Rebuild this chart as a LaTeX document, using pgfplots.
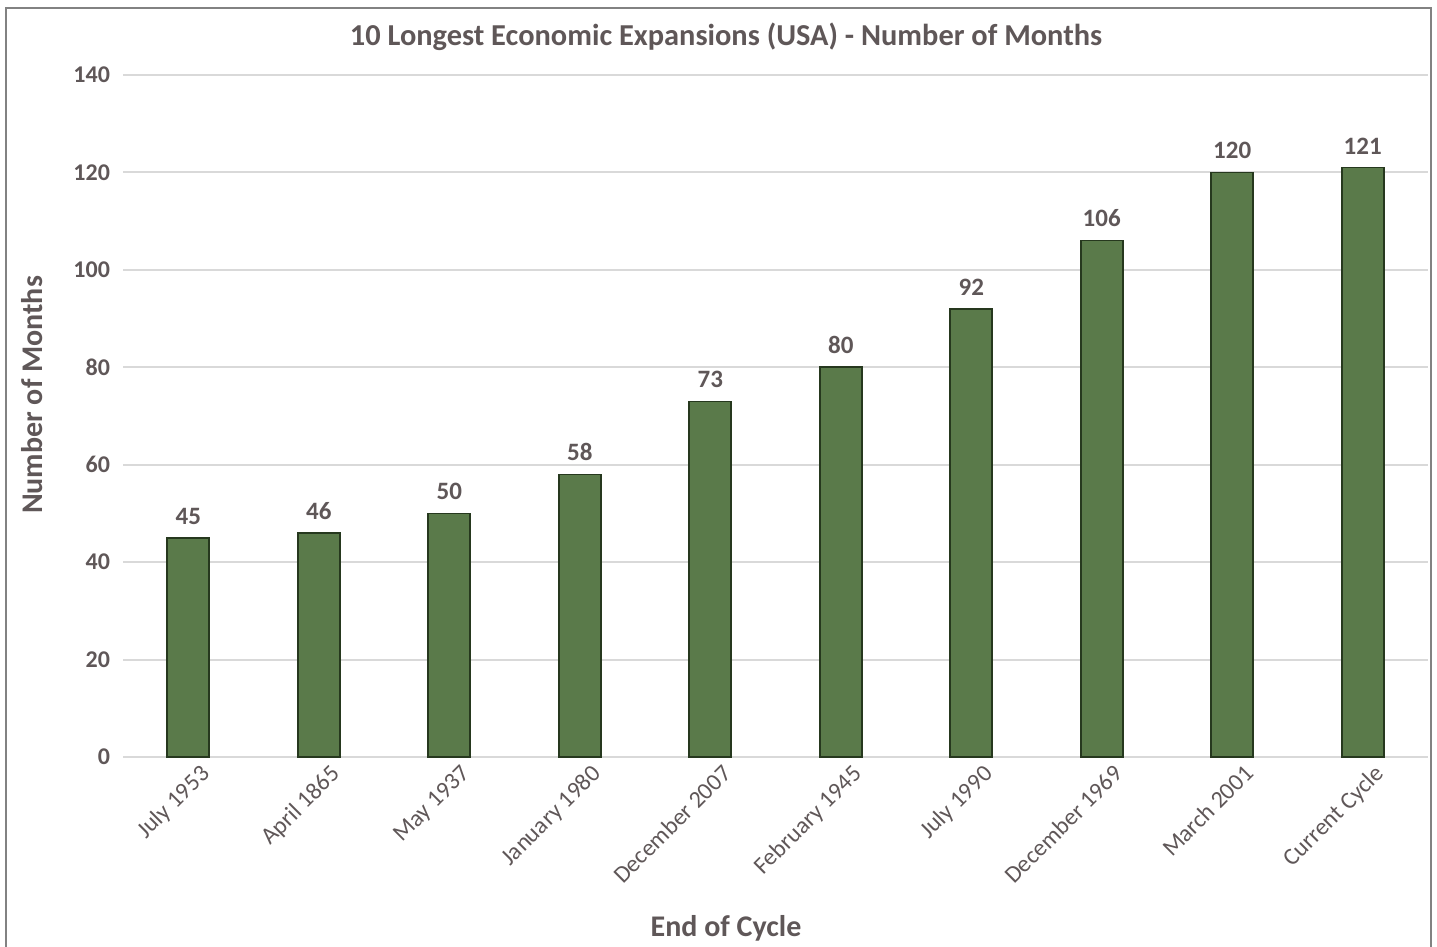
\documentclass[border=0pt]{standalone}
\usepackage{fontspec}
\setmainfont{Carlito}
\usepackage{pgfplots}
\pgfplotsset{compat=1.18}
\definecolor{txt}{RGB}{95,87,88}
\definecolor{barfill}{RGB}{90,122,74}
\definecolor{baredge}{RGB}{38,56,30}
\definecolor{gridc}{RGB}{217,217,217}
\definecolor{framec}{RGB}{130,130,130}
\begin{document}
\begin{tikzpicture}
\useasboundingbox (0,0) rectangle (718.5pt,473.5pt);
\draw[framec, line width=0.7pt] (3pt,-2pt) -- (3pt,469.5pt) -- (715.5pt,469.5pt) -- (715.5pt,-2pt);
\node[text=txt, font=\bfseries\fontsize{15.2}{17}\selectfont] at (363pt,455pt) {10 Longest Economic Expansions (USA) - Number of Months};
\node[text=txt, font=\bfseries\fontsize{15}{17}\selectfont, rotate=90] at (16pt,276pt) {Number of Months};
\node[text=txt, font=\bfseries\fontsize{15}{17}\selectfont] at (363pt,9.5pt) {End of Cycle};
\begin{axis}[
  at={(61.5pt,95pt)}, anchor=south west, scale only axis,
  width=652.5pt, height=341pt,
  xmin=-0.5, xmax=9.5, ymin=0, ymax=140,
  ytick={0,20,...,140},
  xtick={0,...,9},
  xticklabels={July 1953, April 1865, May 1937, January 1980, December 2007, February 1945, July 1990, December 1969, March 2001, Current Cycle},
  xticklabel style={rotate=45, anchor=north east, xshift=5pt, yshift=-2.5pt, font=\fontsize{12}{14}\selectfont, text=txt},
  yticklabel style={font=\bfseries\fontsize{12}{14}\selectfont, text=txt, xshift=-3pt},
  /pgf/number format/assume math mode=true,
  axis line style={draw=none},
  tick style={draw=none},
  ymajorgrids, major grid style={gridc, line width=1pt},
  clip=false,
]
\addplot[ybar, bar width=21pt, fill=barfill, draw=baredge, line width=0.8pt,
  nodes near coords,
  every node near coord/.append style={font=\bfseries\fontsize{12.5}{14}\selectfont, text=txt, yshift=3pt}]
  coordinates {(0,45) (1,46) (2,50) (3,58) (4,73) (5,80) (6,92) (7,106) (8,120) (9,121)};
\end{axis}
\end{tikzpicture}
\end{document}
